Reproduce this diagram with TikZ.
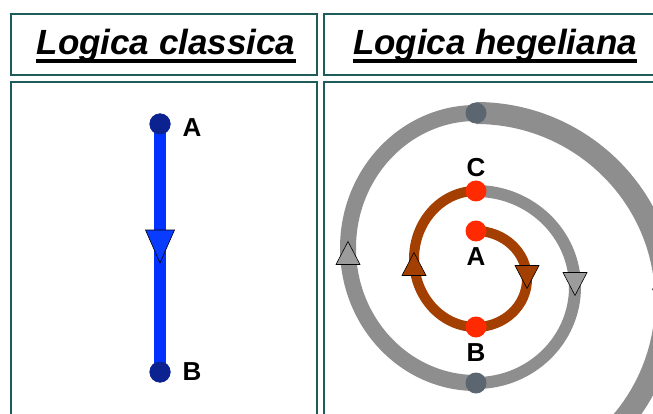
\documentclass[tikz,border=0pt]{standalone}
\usepackage{fontspec}
\setmainfont{Liberation Sans}
\definecolor{framecol}{HTML}{1E5C5C}
\definecolor{blueline}{HTML}{0033FF}
\definecolor{bluedot}{HTML}{0B2290}
\definecolor{bluetri}{HTML}{0A3CFF}
\definecolor{brownline}{HTML}{A33F00}
\definecolor{reddot}{HTML}{FF2A00}
\definecolor{grayband}{HTML}{8E8E8E}
\definecolor{graydot}{HTML}{5C6670}
\definecolor{graytri}{HTML}{9C9C9C}
\begin{document}
\begin{tikzpicture}[x=1pt,y=-1pt,
  frame/.style={draw=framecol, line width=2pt},
  title/.style={font=\fontsize{35}{40}\selectfont\bfseries\itshape, inner sep=0pt, anchor=base},
  lab/.style={font=\fontsize{26}{30}\selectfont\bfseries, inner sep=0pt},
  dot/.style={circle, inner sep=0pt, minimum size=21pt},
  trioutline/.style={draw=black, line width=0.6pt, line join=miter},
  tridown/.pic={\path[pic actions] (-12,-11.5) -- (12,-11.5) -- (0,11.5) -- cycle;},
  triup/.pic={\path[pic actions] (-12,11.5) -- (12,11.5) -- (0,-11.5) -- cycle;}
]
\useasboundingbox (0,0) rectangle (653,414);
\clip (0,0) rectangle (653,414);
\fill[white] (0,0) rectangle (653,414);

% frames
\draw[frame] (11,14) rectangle (317,75);
\draw[frame] (324,14) rectangle (667,75);
\draw[frame] (11,82) rectangle (317,440);
\draw[frame] (324,82) rectangle (667,440);

% titles
\node[title] (t1) at (166,55) {Logica classica};
\node[title] (t2) at (495,55) {Logica hegeliana};
\fill (t1.west |- 0,59.5) rectangle (t1.east |- 0,63.5);
\fill (t2.west |- 0,59.5) rectangle (t2.east |- 0,63.5);

% classical logic
\node[dot, fill=bluedot] (lA) at (160,124) {};
\node[dot, fill=bluedot] (lB) at (160,372) {};
\draw[blueline, line width=12pt] (lA.center) -- (lB.center);
\node[dot, fill=bluedot] at (lA) {};
\node[dot, fill=bluedot] at (lB) {};
\path[fill=bluetri, trioutline] (145.5,230) -- (174.5,230) -- (160,263) -- cycle;
\node[lab] (labA) at (192,128) {A};
\node[lab] (labB) at (192,372) {B};

% hegelian spiral
\coordinate (sA) at (476,231);
\coordinate (sB) at (476,327);
\coordinate (sC) at (476,191);
\coordinate (gB) at (476,383);
\coordinate (gT) at (476,113);
\draw[grayband, line width=22pt] (gT) arc[start angle=-90, end angle=70, x radius=190, y radius=188];
\draw[grayband, line width=16pt] (gB) arc[start angle=90, end angle=270, x radius=128, y radius=135];
\draw[grayband, line width=12pt] (sC) arc[start angle=-90, end angle=90, x radius=99, y radius=96];
\draw[brownline, line width=10pt] (sA) arc[start angle=-90, end angle=90, x radius=51, y radius=48];
\draw[brownline, line width=10pt] (sB) arc[start angle=90, end angle=270, x radius=62, y radius=68];

\pic[fill=brownline, trioutline] at (527,277) {tridown};
\pic[fill=brownline, trioutline] at (414,264) {triup};
\pic[fill=graytri, trioutline] at (575,284) {tridown};
\pic[fill=graytri, trioutline] at (348,253) {triup};
\pic[fill=graytri, trioutline] at (664.5,300.5) {tridown};

\node[dot, fill=graydot] (dT) at (gT) {};
\node[dot, fill=graydot] (dB) at (gB) {};
\node[dot, fill=reddot] (dA) at (sA) {};
\node[dot, fill=reddot] (dBr) at (sB) {};
\node[dot, fill=reddot] (dC) at (sC) {};

\node[lab] (hC) at (476,168) {C};
\node[lab] (hA) at (476,257) {A};
\node[lab] (hB) at (476,353) {B};
\end{tikzpicture}
\end{document}
